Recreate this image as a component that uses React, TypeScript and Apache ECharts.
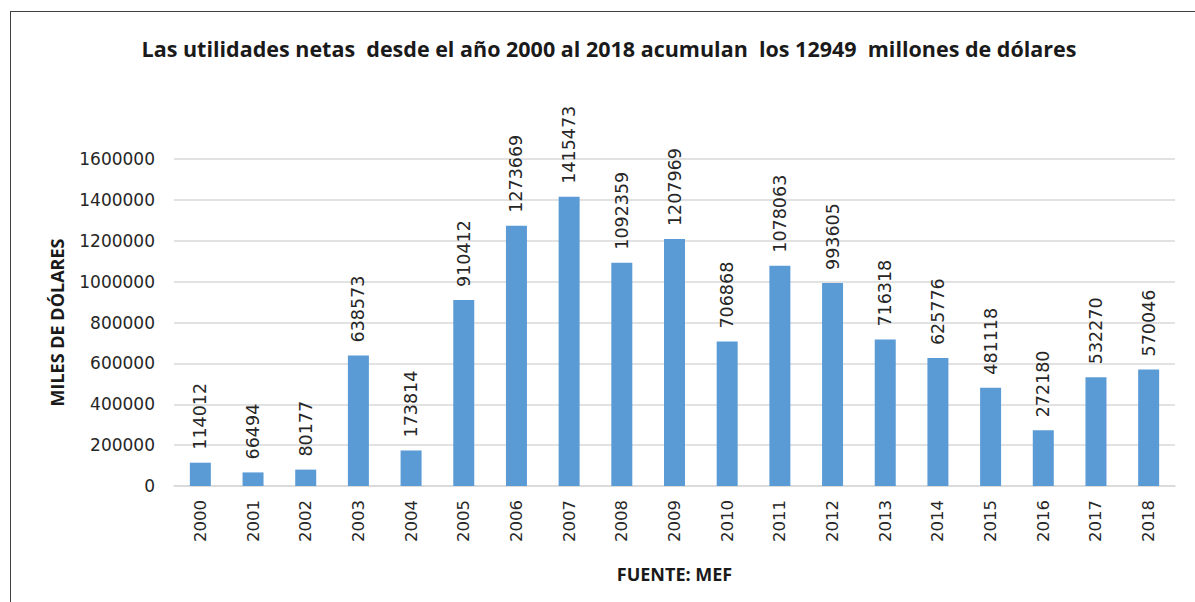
import React, { useEffect, useRef } from "react";
import * as echarts from "echarts";

const years = ["2000","2001","2002","2003","2004","2005","2006","2007","2008","2009","2010","2011","2012","2013","2014","2015","2016","2017","2018"];
const values = [114012,66494,80177,638573,173814,910412,1273669,1415473,1092359,1207969,706868,1078063,993605,716318,625776,481118,272180,532270,570046];
const titleText = "Las utilidades netas  desde el año 2000 al 2018 acumulan  los 12949  millones de dólares";
const yName = "MILES DE DÓLARES";
const xName = "FUENTE: MEF";

export default function App() {
  const ref = useRef<HTMLDivElement>(null);
  useEffect(() => {
    if (!ref.current) return;
    const chart = echarts.init(ref.current, null, { renderer: "svg" });
    const font = "'DejaVu Sans', 'Liberation Sans', sans-serif";
    const boldFont = "'Open Sans', 'Noto Sans', sans-serif";
    chart.setOption({
      animation: false,
      backgroundColor: "#ffffff",
      textStyle: { fontFamily: font },
      graphic: [
        { type: "line", shape: { x1: 10.5, y1: 11, x2: 10.5, y2: 602 }, style: { stroke: "#404040", lineWidth: 1 } },
        { type: "line", shape: { x1: 10, y1: 11.5, x2: 1195, y2: 11.5 }, style: { stroke: "#404040", lineWidth: 1 } },
        {
          type: "text",
          x: 609,
          y: 48,
          style: {
            text: titleText,
            fontFamily: boldFont,
            fontWeight: "bold",
            fontSize: 21.5,
            fill: "#1a1a1a",
            textAlign: "center",
            textVerticalAlign: "middle",
          },
        },
      ],
      grid: { left: 174, right: 20, top: 159, bottom: 116 },
      xAxis: {
        type: "category",
        data: years,
        name: xName,
        nameLocation: "middle",
        nameGap: 79,
        nameTextStyle: { fontWeight: "bold", fontSize: 18, color: "#1a1a1a", fontFamily: boldFont },
        axisLine: { lineStyle: { color: "#D9D9D9", width: 1.5 } },
        axisTick: { show: false },
        axisLabel: { rotate: 90, margin: 14, fontSize: 16.5, color: "#262626", fontFamily: font },
      },
      yAxis: {
        type: "value",
        min: 0,
        max: 1600000,
        interval: 200000,
        name: yName,
        nameLocation: "middle",
        nameGap: 108,
        nameTextStyle: { fontWeight: "bold", fontSize: 18, color: "#1a1a1a", fontFamily: boldFont },
        axisLine: { show: false },
        axisTick: { show: false },
        splitLine: { lineStyle: { color: "#D9D9D9", width: 1.5 } },
        axisLabel: { margin: 19, fontSize: 17, color: "#262626", fontFamily: font, formatter: (v: number) => String(v) },
      },
      series: [
        {
          type: "bar",
          data: values,
          barWidth: 21,
          itemStyle: { color: "#5B9BD5" },
          label: {
            show: true,
            position: "top",
            rotate: 90,
            align: "left",
            verticalAlign: "middle",
            distance: 13,
            fontSize: 17.5,
            color: "#262626",
            fontFamily: font,
          },
        },
      ],
    });
    return () => chart.dispose();
  }, []);
  return <div ref={ref} style={{ position: "absolute", left: 0, top: 0, width: 1195, height: 602 }} />;
}
